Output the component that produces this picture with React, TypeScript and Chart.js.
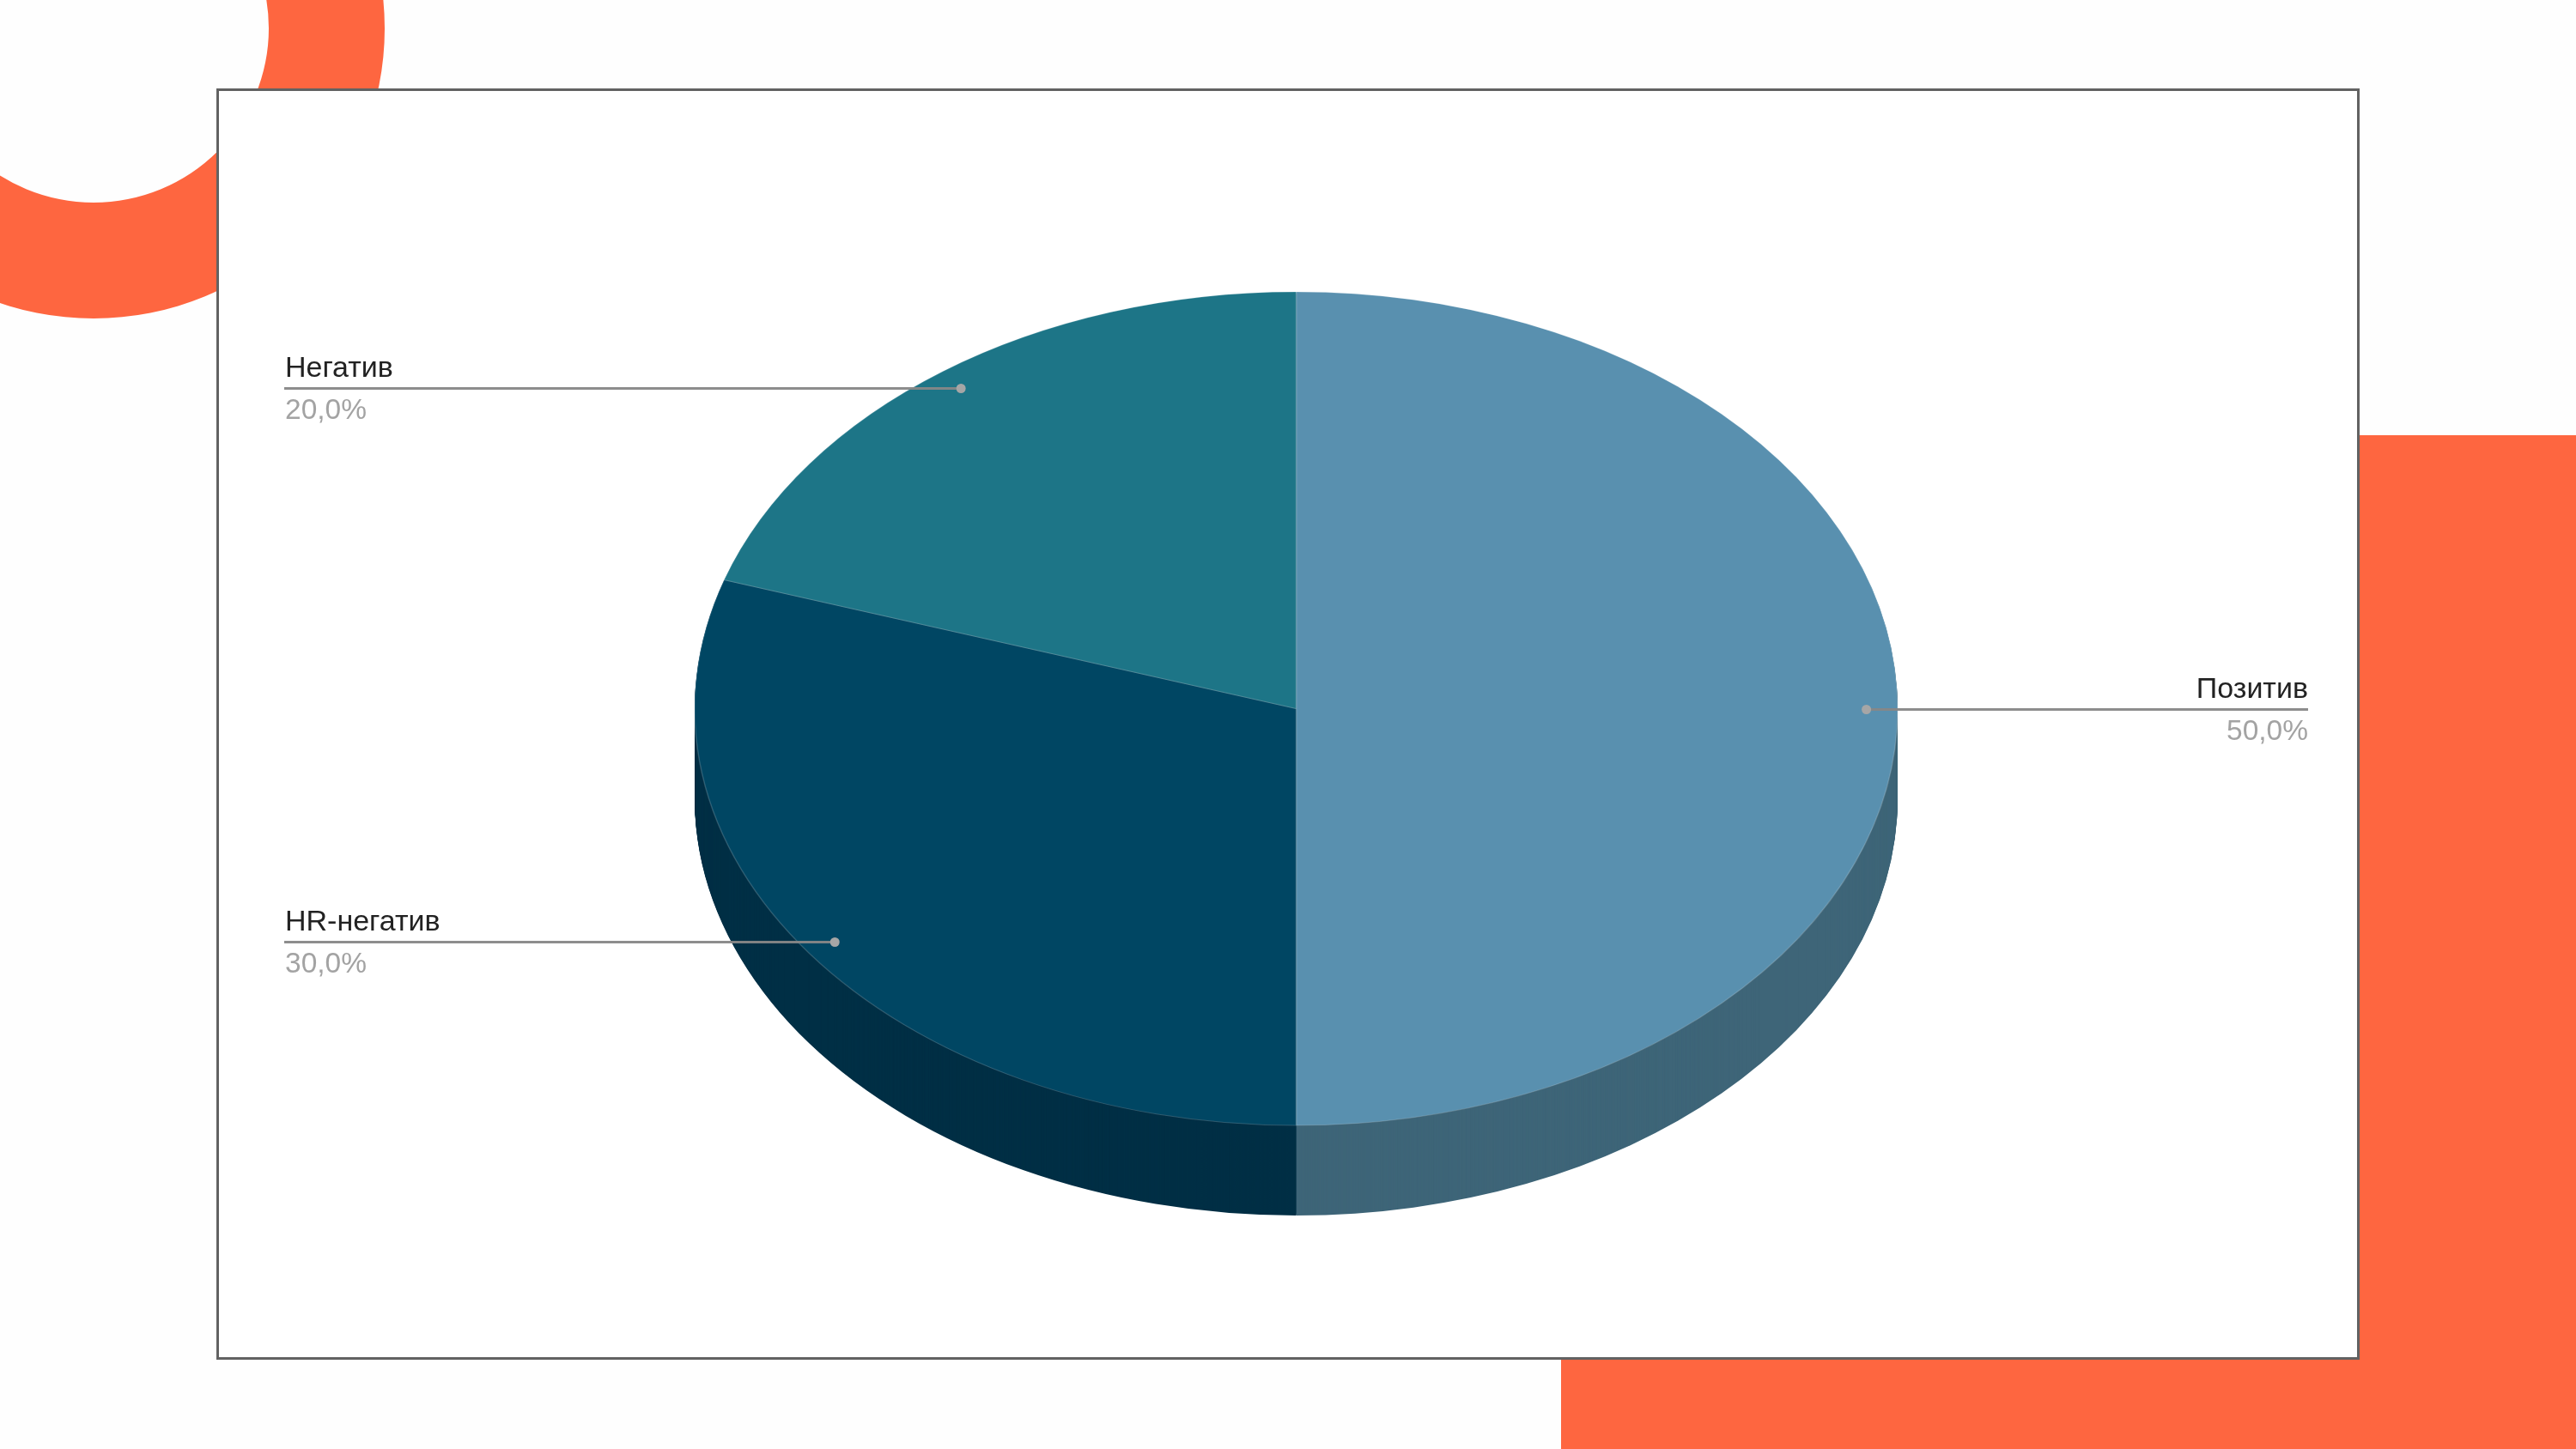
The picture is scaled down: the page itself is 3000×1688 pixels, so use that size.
import React, { useEffect, useRef } from "react";
import { Chart, registerables } from "chart.js";

Chart.register(...registerables);

const categories = ["Позитив", "HR-негатив", "Негатив"];
const shares = [50, 30, 20];
const topColors = ["#5990AF", "#004663", "#1D7587"];
const wallColors = ["#3E6578", "#002F45", "#14525F"];
const FONT = '"Liberation Sans", Arial, sans-serif';

const ORANGE = "#FE6640";
const PIE = { cx: 1509.5, cy: 825.5, rx: 700.5, ry: 485.5, depth: 105 };
const CALLOUT = { left: 331, right: 2688, dotFractionX: 0.948, dotFractionY: 0.952 };

function place(ctx: CanvasRenderingContext2D, el: any, dy: number) {
  ctx.translate(PIE.cx, PIE.cy + dy);
  ctx.scale(PIE.rx / el.outerRadius, PIE.ry / el.outerRadius);
  ctx.translate(-el.x, -el.y);
}

const piePlugin = {
  id: "tiltedPie",
  beforeDatasetsDraw(chart: any) {
    const ctx = chart.ctx as CanvasRenderingContext2D;
    const arcs = chart.getDatasetMeta(0).data as any[];
    for (let d = PIE.depth; d >= 1; d -= 1) {
      arcs.forEach((el, i) => {
        const saved = el.options;
        el.options = { ...saved, backgroundColor: wallColors[i], borderWidth: 0 };
        ctx.save();
        place(ctx, el, d);
        el.draw(ctx);
        ctx.restore();
        el.options = saved;
      });
    }
    ctx.save();
    place(ctx, arcs[0], 0);
  },
  afterDatasetsDraw(chart: any) {
    const ctx = chart.ctx as CanvasRenderingContext2D;
    ctx.restore();
    const arcs = chart.getDatasetMeta(0).data as any[];
    arcs.forEach((el, i) => {
      const mid = (el.startAngle + el.endAngle) / 2;
      const px = PIE.cx + Math.cos(mid) * PIE.rx * CALLOUT.dotFractionX;
      const py = Math.round(PIE.cy + Math.sin(mid) * PIE.ry * CALLOUT.dotFractionY) + 0.5;
      const onRight = px > PIE.cx;
      const edge = onRight ? CALLOUT.right : CALLOUT.left;
      ctx.save();
      ctx.strokeStyle = "rgba(135,135,135,0.95)";
      ctx.lineWidth = 3;
      ctx.beginPath();
      ctx.moveTo(px, py);
      ctx.lineTo(edge, py);
      ctx.stroke();
      ctx.fillStyle = "#A6A6A6";
      ctx.beginPath();
      ctx.arc(px, py, 5.5, 0, Math.PI * 2);
      ctx.fill();
      ctx.textAlign = onRight ? "right" : "left";
      ctx.textBaseline = "alphabetic";
      ctx.font = `34px ${FONT}`;
      ctx.fillStyle = "#222222";
      const tx = onRight ? edge : edge + 1;
      ctx.fillText(categories[i], tx, py - 14);
      ctx.font = `33.5px ${FONT}`;
      ctx.fillStyle = "#A3A3A3";
      ctx.fillText(`${shares[i].toFixed(1).replace(".", ",")}%`, tx, py + 35);
      ctx.restore();
    });
  },
};

export default function App() {
  const ref = useRef<HTMLCanvasElement | null>(null);
  useEffect(() => {
    document.body.style.margin = "0";
    document.body.style.background = "#FEFEFE";
    const chart = new Chart(ref.current as HTMLCanvasElement, {
      type: "pie",
      data: {
        labels: categories,
        datasets: [
          {
            data: shares,
            backgroundColor: topColors,
            borderColor: "rgba(255,255,255,0.18)",
            borderWidth: 1,
            clip: false,
          } as any,
        ],
      },
      options: {
        responsive: false,
        animation: false,
        layout: { padding: { top: 340, bottom: 377, left: 809, right: 790 } },
        plugins: { legend: { display: false }, tooltip: { enabled: false } },
      },
      plugins: [piePlugin as any],
    });
    return () => chart.destroy();
  }, []);

  return (
    <div style={{ position: "fixed", left: 0, top: 0, width: 3000, height: 1688, overflow: "hidden", background: "#FEFEFE" }}>
      <div
        style={{
          position: "absolute",
          left: 108.5 - 339,
          top: 33 - 338,
          width: 678,
          height: 676,
          boxSizing: "border-box",
          border: `135px solid ${ORANGE}`,
          borderRadius: "50%",
        }}
      />
      <div style={{ position: "absolute", left: 1818, top: 507, width: 1182, height: 1181, background: ORANGE }} />
      <div
        style={{
          position: "absolute",
          left: 252,
          top: 103,
          width: 2496,
          height: 1481,
          boxSizing: "border-box",
          border: "3px solid #626262",
          background: "#FFFFFF",
        }}
      />
      <canvas ref={ref} width={3000} height={1688} style={{ position: "absolute", left: 0, top: 0, display: "block" }} />
    </div>
  );
}
